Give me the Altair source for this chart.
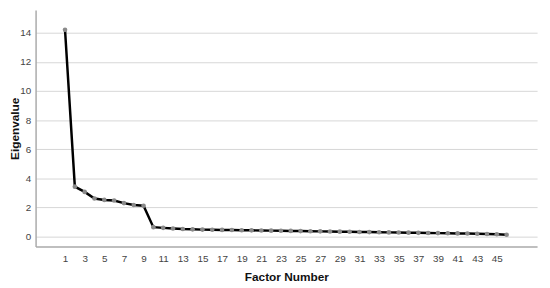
import altair as alt
import pandas as pd

factors = list(range(1, 47))
eigenvalues = [14.2, 3.43, 3.07, 2.62, 2.52, 2.48, 2.30, 2.17, 2.12, 0.65,
               0.60, 0.56, 0.52, 0.50, 0.48, 0.47, 0.46, 0.45, 0.44, 0.43,
               0.42, 0.41, 0.40, 0.39, 0.38, 0.37, 0.36, 0.35, 0.34, 0.33,
               0.32, 0.31, 0.30, 0.29, 0.28, 0.27, 0.26, 0.25, 0.24, 0.23,
               0.22, 0.21, 0.20, 0.18, 0.16, 0.13]
x_ticks = list(range(1, 46, 2))
y_ticks = [0, 2, 4, 6, 8, 10, 12, 14]

df = pd.DataFrame({"Factor Number": factors, "Eigenvalue": eigenvalues})

x = alt.X("Factor Number:Q",
          scale=alt.Scale(domain=[-2, 49.1], nice=False, zero=False),
          axis=alt.Axis(values=x_ticks, grid=False, ticks=False, labelPadding=7,
                        title="Factor Number", titleY=31, titleBaseline="middle"))
y = alt.Y("Eigenvalue:Q",
          scale=alt.Scale(domain=[-0.68, 15.56], nice=False, zero=False),
          axis=alt.Axis(values=y_ticks, grid=True, ticks=False, labelPadding=5,
                        title="Eigenvalue", titleX=-21, titleBaseline="middle"))

base = alt.Chart(df).encode(x=x, y=y)
line = base.mark_line(color="black", strokeWidth=2.5)
pts = base.mark_circle(color="#8a8a8a", size=22, opacity=1)

chart = (line + pts).properties(
    width=509, height=240,
    autosize=alt.AutoSizeParams(type="none"),
    padding={"left": 28, "top": 0, "right": 5, "bottom": 38},
).configure_view(stroke=None).configure_axis(
    labelFont="Liberation Sans", labelFontSize=10, labelColor="#444",
    titleFont="Liberation Sans", titleFontSize=12, titleFontWeight="bold",
    titleColor="#111", gridColor="#d6d6d6", gridWidth=1,
    domainColor="#aaaaaa", domainWidth=1.5,
)

chart.save("out.html", embed_options={"renderer": "svg", "actions": False})
